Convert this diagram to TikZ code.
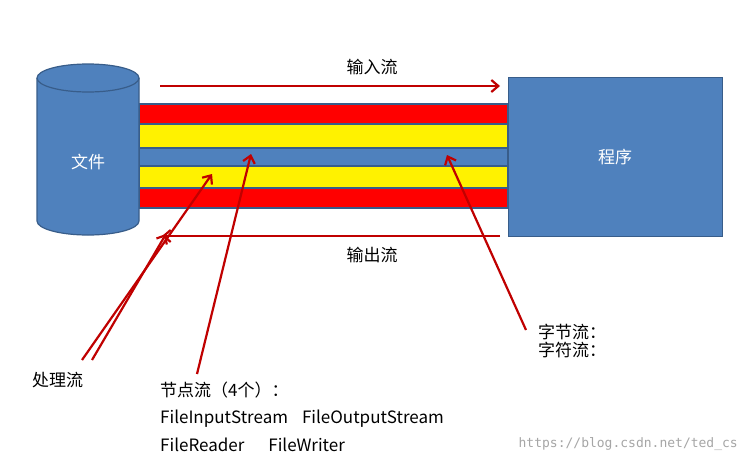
\documentclass[tikz,border=0pt]{standalone}
\usepackage{fontspec}
\setmainfont{Noto Sans CJK SC}
\newfontfamily\wm{DejaVu Sans Mono}
\usetikzlibrary{arrows.meta}
\definecolor{fillb}{HTML}{4F81BD}
\definecolor{edgeb}{HTML}{385D8A}
\definecolor{darr}{HTML}{C00000}
\tikzset{
  band/.style={draw=edgeb, line width=1.2pt},
  arr/.style={draw=darr, line width=2.2pt, -{Straight Barb[length=7pt,width=12pt]}},
  lbl/.style={font=\fontsize{17}{20}\selectfont, inner sep=0pt},
}
\begin{document}
\begin{tikzpicture}[x=1pt,y=-1pt]
\useasboundingbox (0,0) rectangle (746,464);
\fill[white] (0,0) rectangle (746,464);
% pipe bands
\filldraw[band, fill=red] (139,104) rectangle (508,124);
\filldraw[band, fill=yellow] (139,124) rectangle (508,148);
\filldraw[band, fill=fillb] (139,148) rectangle (508,166);
\filldraw[band, fill=yellow] (139,166) rectangle (508,188);
\filldraw[band, fill=red] (139,188) rectangle (508,208);
% cylinder
\filldraw[fill=fillb, draw=edgeb, line width=1.2pt] (37,78) -- (37,221) arc[start angle=180,end angle=0,x radius=51,y radius=14] -- (139,78) arc[start angle=0,end angle=-180,x radius=51,y radius=14] -- cycle;
\draw[edgeb, line width=1.2pt] (37,78) arc[start angle=180,end angle=0,x radius=51,y radius=14];
\node[lbl, white] (file) at (88,162) {文件};
% program
\node[draw=edgeb, fill=fillb, line width=1.2pt, minimum width=214pt, minimum height=159pt, anchor=north west, inner sep=0pt] (prog) at (508,77) {};
\node[lbl, white] at (615,157) {程序};
% arrows
\coordinate (ia) at (160,86); \coordinate (ib) at (500,86);
\draw[arr] (ia) -- (ib);
\node[lbl] (in) at (372,67) {输入流};
\coordinate (oa) at (500,236); \coordinate (ob) at (162,236);
\draw[arr] (oa) -- (ob);
\node[lbl] (out) at (372,255) {输出流};
% labels
\node[lbl, anchor=west] (proc) at (32,380) {处理流};
\node[lbl, anchor=west] (node) at (160,390) {节点流（4个）：};
\node[lbl, anchor=west] at (160,419) {FileInputStream\hspace{14pt}FileOutputStream};
\node[lbl, anchor=west] at (160,445) {FileReader\hspace{24pt}FileWriter};
\node[lbl, anchor=west, align=left] (bc) at (538,341) {字节流：\\[-2pt]字符流：};
\node[anchor=east, text=gray!70, font=\wm\fontsize{13}{15}\selectfont, inner sep=0pt] at (738,444) {https://blog.csdn.net/ted\_cs};
% pointer lines
\coordinate (p1) at (82,360); \coordinate (p2) at (92,360);
\coordinate (t1) at (212,174); \coordinate (t2) at (166,234);
\draw[arr] (p1) -- (t1);
\draw[arr] (p2) -- (t2);
\coordinate (n1) at (197,374); \coordinate (nt) at (251,154);
\draw[arr] (n1) -- (nt);
\coordinate (b1) at (526,330); \coordinate (bt) at (447,155);
\draw[arr] (b1) -- (bt);
\end{tikzpicture}
\end{document}
